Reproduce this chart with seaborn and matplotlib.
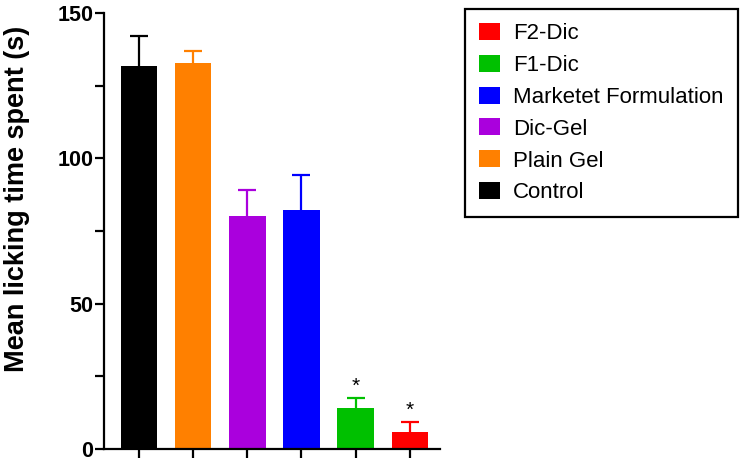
import matplotlib
matplotlib.use("Agg")
import matplotlib.pyplot as plt
from matplotlib.patches import Patch
from matplotlib.ticker import MultipleLocator
import numpy as np
import seaborn as sns

groups = ["Control", "Plain Gel", "Dic-Gel", "Marketet Formulation", "F1-Dic", "F2-Dic"]
means = [131.8, 132.7, 80.2, 82.2, 14.0, 6.0]
errors = [10.3, 4.3, 8.9, 11.9, 3.4, 3.3]
colors = ["#000000", "#FF8000", "#AA00DD", "#0000FF", "#00C000", "#FF0000"]
stars = ["", "", "", "", "*", "*"]

sns.set_theme(style="ticks")
plt.rcParams["font.family"] = ["Liberation Sans", "DejaVu Sans"]
for k in ["text.color", "axes.labelcolor", "xtick.color", "ytick.color", "axes.edgecolor"]:
    plt.rcParams[k] = "black"

fig = plt.figure(figsize=(7.49, 4.61), dpi=100)
ax = fig.add_axes([104 / 749, 12 / 461, (440 - 104) / 749, (449 - 13) / 461])

sns.barplot(x=groups, y=means, hue=groups, palette=colors, dodge=False, saturation=1,
            width=0.67, legend=False, ax=ax, linewidth=0)

xpos = np.arange(len(groups))
for i in range(len(groups)):
    _, caps, _ = ax.errorbar(xpos[i], means[i], yerr=[[0], [errors[i]]], color=colors[i],
                             capsize=6.5, capthick=1.6, elinewidth=1.6, fmt="none", zorder=1)
    caps[0].set_visible(False)
    if stars[i]:
        ax.text(xpos[i], means[i] + errors[i] + 0.8, stars[i], ha="center", va="bottom",
                fontsize=15, color="black")

ax.set_ylim(0, 150)
ax.set_xlim(-0.65, 5.56)
ax.yaxis.set_major_locator(MultipleLocator(50))
ax.yaxis.set_minor_locator(MultipleLocator(25))
ax.set_xticks(xpos)
ax.set_xticklabels([])
ax.set_xlabel("")
ax.set_ylabel("Mean licking time spent (s)", fontsize=19.5, fontweight="bold")
ax.yaxis.set_label_coords(-0.219, 0.573)
ax.tick_params(axis="y", which="major", length=6.5, width=1.6, labelsize=15.5, pad=1)
ax.tick_params(axis="y", which="minor", length=6.5, width=1.6)
ax.tick_params(axis="x", length=6.5, width=1.6)
for lbl in ax.get_yticklabels():
    lbl.set_fontweight("bold")
sns.despine(ax=ax)
for s in ["left", "bottom"]:
    ax.spines[s].set_linewidth(1.6)

handles = [Patch(facecolor=c, edgecolor="none") for c in colors][::-1]
leg = fig.legend(handles, groups[::-1], loc="upper left",
                 bbox_to_anchor=(465 / 749, 1 - 9 / 461), borderaxespad=0,
                 fontsize=16, frameon=True, fancybox=False, labelspacing=0.48,
                 handlelength=0.95, handleheight=0.8, handletextpad=0.6,
                 borderpad=0.62)
leg.get_frame().set_edgecolor("black")
leg.get_frame().set_linewidth(1.6)
leg.get_frame().set_alpha(1)

fig.savefig("out.png", dpi=100)
